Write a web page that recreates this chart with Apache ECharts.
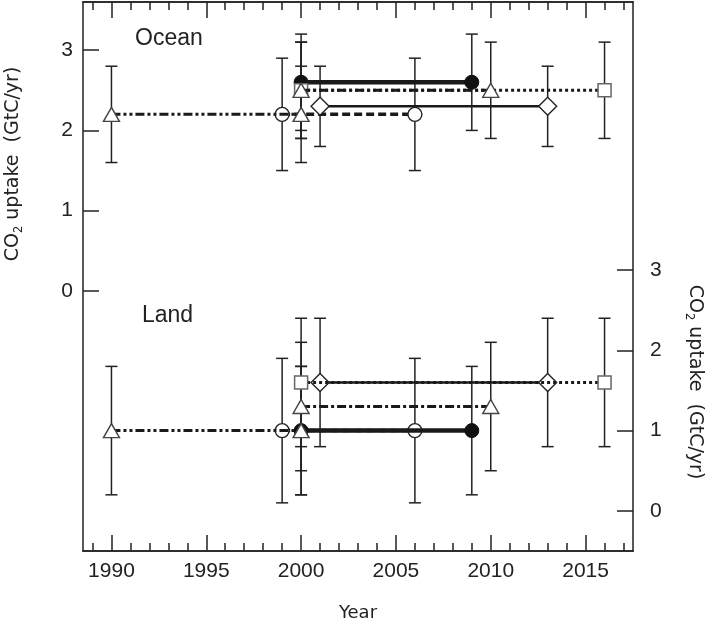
<!DOCTYPE html>
<html>
<head>
<meta charset="utf-8">
<script src="https://cdn.jsdelivr.net/npm/echarts@6/dist/echarts.min.js"></script>
<style>html,body{margin:0;padding:0;background:#fff}#c{width:708px;height:625px}</style>
</head>
<body>
<div id="c"></div>
<script>
// ---- tick labels ----
const xMajorTicks = [1990, 1995, 2000, 2005, 2010, 2015];
const xMinorTicks = [1989, 1990, 1991, 1992, 1993, 1994, 1995, 1996, 1997, 1998, 1999, 2000, 2001, 2002, 2003,
  2004, 2005, 2006, 2007, 2008, 2009, 2010, 2011, 2012, 2013, 2014, 2015, 2016, 2017];
const yTicks = [0, 1, 2, 3];

// ---- data: [year, CO2 uptake (GtC/yr), error] ----
// Ocean (left axis)
const oceanFilledCircle = [[2000, 2.6, 0.6], [2009, 2.6, 0.6]];
const oceanOpenCircle   = [[1999, 2.2, 0.7], [2006, 2.2, 0.7]];
const oceanSquare       = [[2000, 2.5, 0.6], [2016, 2.5, 0.6]];
const oceanDiamond      = [[2001, 2.3, 0.5], [2013, 2.3, 0.5]];
const oceanTriangleA    = [[2000, 2.5, 0.6], [2010, 2.5, 0.6]];
const oceanTriangleB    = [[1990, 2.2, 0.6], [2000, 2.2, 0.6]];
// Land (right axis)
const landFilledCircle  = [[2000, 1.0, 0.8], [2009, 1.0, 0.8]];
const landOpenCircle    = [[1999, 1.0, 0.9], [2006, 1.0, 0.9]];
const landSquare        = [[2000, 1.6, 0.8], [2016, 1.6, 0.8]];
const landDiamond       = [[2001, 1.6, 0.8], [2013, 1.6, 0.8]];
const landTriangleA     = [[2000, 1.3, 0.8], [2010, 1.3, 0.8]];
const landTriangleB     = [[1990, 1.0, 0.8], [2000, 1.0, 0.8]];

// ---- styles ----
const INK = '#222';
const FONT = 'Liberation Sans';
const TFONT = 'DejaVu Sans';
const kinds = {
  openCircle:   {symbol: 'circle',   size: 14,       fill: '#fff', stroke: INK,    lw: 1.4, line: {width: 3.5, type: [8, 4]}, z: 2},
  diamond:      {symbol: 'diamond',  size: [18, 18], fill: '#fff', stroke: INK,    lw: 1.4, line: {width: 2.5, type: 'solid'}, z: 2},
  filledCircle: {symbol: 'circle',   size: 14,       fill: '#111', stroke: '#111', lw: 1,   line: {width: 4.5, type: 'solid'}, z: 3},
  square:       {symbol: 'rect',     size: 13,       fill: '#fff', stroke: '#666', lw: 1.5, line: {width: 3, type: [3, 3]}, z: 4},
  triangleA:    {symbol: 'triangle', size: [16, 14], fill: '#fff', stroke: '#444', lw: 1.4, line: {width: 3, type: [9, 3, 3, 3]}, z: 5},
  triangleB:    {symbol: 'triangle', size: [16, 14], fill: '#fff', stroke: '#444', lw: 1.4, line: {width: 3, type: [9, 3, 3, 3, 3, 3]}, z: 5}
};

const groups = [
  {axis: 0, sets: {openCircle: oceanOpenCircle, diamond: oceanDiamond, filledCircle: oceanFilledCircle,
                   square: oceanSquare, triangleA: oceanTriangleA, triangleB: oceanTriangleB}},
  {axis: 1, sets: {openCircle: landOpenCircle, diamond: landDiamond, filledCircle: landFilledCircle,
                   square: landSquare, triangleA: landTriangleA, triangleB: landTriangleB}}
];

function errorBar(params, api) {
  const x = api.value(0), y = api.value(1), e = api.value(2);
  const t = api.coord([x, y + e]);
  const b = api.coord([x, y - e]);
  const hw = 6;
  const st = {stroke: INK, lineWidth: 1.5};
  return {
    type: 'group',
    children: [
      {type: 'line', shape: {x1: t[0], y1: t[1], x2: b[0], y2: b[1]}, style: st},
      {type: 'line', shape: {x1: t[0] - hw, y1: t[1], x2: t[0] + hw, y2: t[1]}, style: st},
      {type: 'line', shape: {x1: b[0] - hw, y1: b[1], x2: b[0] + hw, y2: b[1]}, style: st}
    ]
  };
}

const series = [];
groups.forEach(g => {
  Object.keys(g.sets).forEach(k => {
    series.push({
      type: 'custom', xAxisIndex: 0, yAxisIndex: g.axis, z: 1, silent: true,
      renderItem: errorBar, data: g.sets[k]
    });
  });
});
groups.forEach(g => {
  Object.keys(g.sets).forEach(k => {
    const s = kinds[k];
    series.push({
      type: 'line', xAxisIndex: 0, yAxisIndex: g.axis, z: s.z, silent: true,
      data: g.sets[k].map(d => [d[0], d[1]]),
      symbol: s.symbol, symbolSize: s.size, showAllSymbol: true,
      itemStyle: {color: s.fill, borderColor: s.stroke, borderWidth: s.lw, opacity: 1},
      lineStyle: {color: '#1a1a1a', width: s.line.width, type: s.line.type, cap: 'butt'},
      emphasis: {disabled: true}
    });
  });
});

const xCommon = {type: 'value', min: 1988.5, max: 2017.5, splitLine: {show: false}, gridIndex: 0};
const tickLine = {color: INK, width: 1.5};

const titleRich = {
  a: {fontSize: 19, fontFamily: TFONT, fill: INK, lineHeight: 24},
  s: {fontSize: 11.5, fontFamily: TFONT, fill: INK, lineHeight: 12, verticalAlign: 'bottom'}
};
const titleText = '{a|CO}{s|2}{a| uptake  (GtC/yr)}';

const option = {
  animation: false,
  backgroundColor: '#fff',
  grid: {left: 83, right: 75, top: 2, bottom: 74, containLabel: false, outerBoundsMode: 'none'},
  xAxis: [
    Object.assign({}, xCommon, {
      position: 'bottom',
      axisLine: {show: true, onZero: false, lineStyle: tickLine},
      axisTick: {show: true, inside: true, length: 16, customValues: xMajorTicks, lineStyle: tickLine},
      axisLabel: {show: true, customValues: xMajorTicks, fontSize: 21, fontFamily: FONT, color: INK, margin: 10,
                  formatter: v => String(v)},
      name: 'Year', nameLocation: 'middle', nameGap: 53,
      nameTextStyle: {fontSize: 18, fontFamily: TFONT, color: INK}
    }),
    Object.assign({}, xCommon, {
      position: 'bottom',
      axisLine: {show: true, onZero: false, lineStyle: tickLine},
      axisTick: {show: true, inside: true, length: 8, customValues: xMinorTicks, lineStyle: tickLine},
      axisLabel: {show: false}
    }),
    Object.assign({}, xCommon, {
      position: 'top',
      axisLine: {show: true, onZero: false, lineStyle: tickLine},
      axisTick: {show: true, inside: true, length: 16, customValues: xMajorTicks, lineStyle: tickLine},
      axisLabel: {show: false}
    }),
    Object.assign({}, xCommon, {
      position: 'top',
      axisLine: {show: true, onZero: false, lineStyle: tickLine},
      axisTick: {show: true, inside: true, length: 8, customValues: xMinorTicks, lineStyle: tickLine},
      axisLabel: {show: false}
    })
  ],
  yAxis: [
    {
      type: 'value', position: 'left', min: -3.24, max: 3.6, splitLine: {show: false},
      axisLine: {show: true, onZero: false, lineStyle: tickLine},
      axisTick: {show: true, inside: true, length: 16, customValues: yTicks, lineStyle: tickLine},
      axisLabel: {customValues: yTicks, fontSize: 21, fontFamily: FONT, color: INK, margin: 10}
    },
    {
      type: 'value', position: 'right', min: -0.5, max: 6.34, splitLine: {show: false},
      axisLine: {show: true, onZero: false, lineStyle: tickLine},
      axisTick: {show: true, inside: true, length: 16, customValues: yTicks, lineStyle: tickLine},
      axisLabel: {customValues: yTicks, fontSize: 21, fontFamily: FONT, color: INK, margin: 17}
    }
  ],
  graphic: [
    {type: 'text', x: 135, y: 38.5, silent: true,
     style: {text: 'Ocean', fontSize: 23, fontFamily: FONT, fill: INK, align: 'left', verticalAlign: 'middle'}},
    {type: 'text', x: 142, y: 316, silent: true,
     style: {text: 'Land', fontSize: 23, fontFamily: FONT, fill: INK, align: 'left', verticalAlign: 'middle'}},
    {type: 'text', x: 13, y: 164, rotation: Math.PI / 2, silent: true,
     style: {text: titleText, rich: titleRich, align: 'center', verticalAlign: 'middle'}},
    {type: 'text', x: 695, y: 382, rotation: -Math.PI / 2, silent: true,
     style: {text: titleText, rich: titleRich, align: 'center', verticalAlign: 'middle'}}
  ],
  series: series
};

const chart = echarts.init(document.getElementById('c'), null, {renderer: 'canvas'});
chart.setOption(option);
</script>
</body>
</html>
